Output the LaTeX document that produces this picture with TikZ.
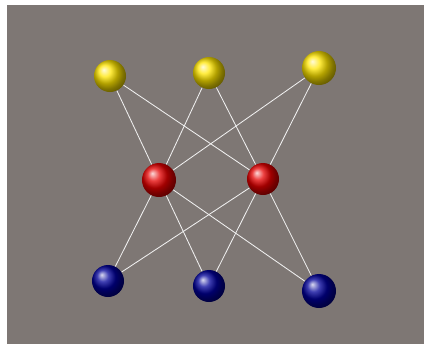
\documentclass[tikz,border=0pt]{standalone}
\usepackage{tikz}

\begin{document}
\begin{tikzpicture}[
  x=0.025cm,y=-0.025cm,
  ball/.style={circle,inner sep=0pt,minimum size=0.8cm,shading=ball},
  inball/.style={ball,ball color=yellow!80!orange},
  hidball/.style={ball,ball color=red!90!black},
  outball/.style={ball,ball color=blue!60!black},
  link/.style={-,line width=0.6pt,white!88!gray}]

% Frame and background.
\useasboundingbox (0,0) rectangle (424,344);
\fill[fill={rgb,255:red,126;green,119;blue,116}] (7,5) rectangle (424,344);

% Top row.
\node[inball] (y1) at (110,76) {};
\node[inball] (y2) at (209,73) {};
\node[inball,minimum size=0.85cm] (y3) at (319,68) {};

% Middle row.
\node[hidball,minimum size=0.85cm] (r1) at (159,180) {};
\node[hidball] (r2) at (263,179) {};

% Bottom row.
\node[outball] (b1) at (108,281) {};
\node[outball] (b2) at (209,286) {};
\node[outball,minimum size=0.85cm] (b3) at (319,291) {};

% Top to middle.
\draw[link] (y1) -- (r1);
\draw[link] (y1) -- (r2);
\draw[link] (y2) -- (r1);
\draw[link] (y2) -- (r2);
\draw[link] (y3) -- (r1);
\draw[link] (y3) -- (r2);

% Middle to bottom.
\draw[link] (r1) -- (b1);
\draw[link] (r1) -- (b2);
\draw[link] (r1) -- (b3);
\draw[link] (r2) -- (b1);
\draw[link] (r2) -- (b2);
\draw[link] (r2) -- (b3);
\end{tikzpicture}
\end{document}
